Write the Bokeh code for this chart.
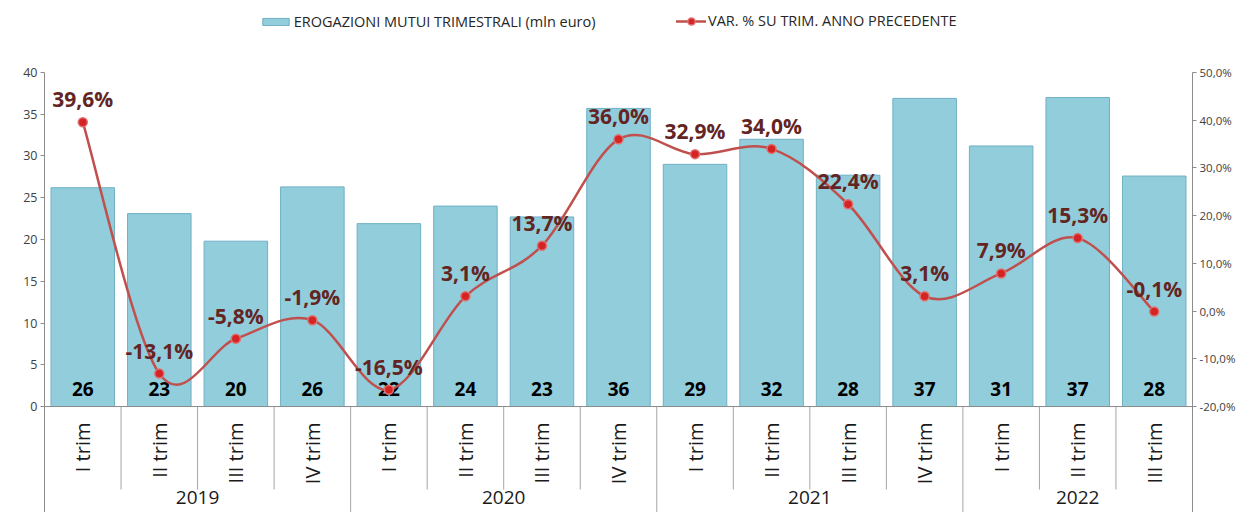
import math
from bokeh.plotting import figure
from bokeh.models import (FactorRange, Range1d, LinearAxis, FixedTicker, CustomJSTickFormatter,
                          ColumnDataSource, Legend, LegendItem, Span)
from bokeh.core.properties import value
from bokeh.embed import file_html
from bokeh.resources import INLINE

# ---------------- data ----------------
years = ["2019", "2019", "2019", "2019", "2020", "2020", "2020", "2020",
         "2021", "2021", "2021", "2021", "2022", "2022", "2022"]
quarters = ["I trim", "II trim", "III trim", "IV trim", "I trim", "II trim", "III trim", "IV trim",
            "I trim", "II trim", "III trim", "IV trim", "I trim", "II trim", "III trim"]
erogazioni = [26.2, 23.1, 19.8, 26.3, 21.9, 24.0, 22.7, 35.7, 29.0, 32.0, 27.7, 36.9, 31.2, 37.0, 27.6]
var_pct = [39.6, -13.1, -5.8, -1.9, -16.5, 3.1, 13.7, 36.0, 32.9, 34.0, 22.4, 3.1, 7.9, 15.3, -0.1]
left_ticks = [0, 5, 10, 15, 20, 25, 30, 35, 40]
right_ticks = [-20, -10, 0, 10, 20, 30, 40, 50]
bar_name = "EROGAZIONI MUTUI TRIMESTRALI (mln euro)"
line_name = "VAR. % SU TRIM. ANNO PRECEDENTE"

FONT = "Open Sans"
factors = list(zip(years, quarters))
n = len(factors)

# ranges (axes show 0..40 / -20..50; frame extends for legend and category labels)
y_lo, y_hi = -12.69, 48.62
p_lo, p_hi = -42.21, 65.10

p = figure(width=1238, height=512,
           x_range=FactorRange(*factors, factor_padding=0, group_padding=0, subgroup_padding=0, range_padding=0),
           y_range=Range1d(y_lo, y_hi),
           output_backend="svg", toolbar_location=None, x_axis_location=None,
           min_border_left=44, min_border_right=42, min_border_top=0, min_border_bottom=0)
p.extra_y_ranges = {"pct": Range1d(p_lo, p_hi)}
p.outline_line_color = None
p.grid.visible = False
p.background_fill_color = "white"
p.border_fill_color = "white"

AX = "#8c8c8c"
yl = p.yaxis[0]
yl.ticker = FixedTicker(ticks=left_ticks)
yl.bounds = (y_lo, left_ticks[-1])
yr = LinearAxis(y_range_name="pct", ticker=FixedTicker(ticks=right_ticks),
                formatter=CustomJSTickFormatter(code="return tick.toFixed(1).replace('.', ',') + '%';"),
                bounds=(p_lo, right_ticks[-1]))
p.add_layout(yr, "right")
for ax in (yl, yr):
    ax.axis_line_color = AX
    ax.major_tick_line_color = AX
    ax.major_tick_out = 4
    ax.major_tick_in = 0
    ax.minor_tick_out = 0
    ax.minor_tick_in = 0
    ax.major_label_text_font = FONT
    ax.major_label_text_font_size = "12.5px"
    ax.major_label_text_color = "#404040"
    ax.major_label_standoff = 3
yr.major_label_text_font_size = "11.5px"

# bars
src = ColumnDataSource(dict(x=factors, top=erogazioni,
                            lab=[str(int(round(v))) for v in erogazioni]))
bars = p.vbar(x="x", top="top", bottom=0, width=0.83, source=src,
              fill_color="#92CDDC", line_color="#6fb0c4", line_width=1)
p.add_layout(Span(location=0, dimension="width", line_color=AX, line_width=1))
p.text(x="x", y=0, text="lab", source=src, text_align="center", text_baseline="middle",
       y_offset=-18, text_font=value(FONT), text_font_style="bold", text_font_size="19px",
       text_color="black")

# category separators
q_sep_x, y_sep_x = [], []
for i in range(1, n):
    pos = (years[i], quarters[i], -0.5)
    if years[i] != years[i - 1]:
        y_sep_x.append(pos)
    else:
        q_sep_x.append(pos)
p.segment(x0=q_sep_x, x1=q_sep_x, y0=0, y1=-9.94, line_color="#a6a6a6", line_width=1)
p.segment(x0=y_sep_x, x1=y_sep_x, y0=0, y1=y_lo, line_color="#a6a6a6", line_width=1)

# quarter labels (rotated) and year labels
p.text(x=factors, y=-1.92, text=quarters, angle=math.pi / 2, text_align="right",
       text_baseline="middle", text_font=value(FONT), text_font_size="20px", text_color="#1a1a1a")
yr_x, yr_t = [], []
for y in dict.fromkeys(years):
    idx = [i for i in range(n) if years[i] == y]
    yr_x.append((years[idx[0]], quarters[idx[0]], (len(idx) - 1) / 2))
    yr_t.append(y)
p.text(x=yr_x, y=-10.85, text=yr_t, text_align="center", text_baseline="middle",
       text_font=value(FONT), text_font_size="19px", text_color="#1a1a1a")

# smoothed line via Bezier segments (Catmull-Rom control points from the data)
bx0, by0, bx1, by1, cx0, cy0, cx1, cy1 = [], [], [], [], [], [], [], []
for i in range(n - 1):
    prv = max(i - 1, 0)
    nxt = min(i + 2, n - 1)
    bx0.append(factors[i]); by0.append(var_pct[i])
    bx1.append(factors[i + 1]); by1.append(var_pct[i + 1])
    cx0.append((years[i], quarters[i], (i + 1 - prv) / 6))
    cy0.append(var_pct[i] + (var_pct[i + 1] - var_pct[prv]) / 6)
    cx1.append((years[i + 1], quarters[i + 1], -(nxt - i) / 6))
    cy1.append(var_pct[i + 1] - (var_pct[nxt] - var_pct[i]) / 6)
curve = p.bezier(x0=bx0, y0=by0, x1=bx1, y1=by1, cx0=cx0, cy0=cy0, cx1=cx1, cy1=cy1,
                 y_range_name="pct", line_color="#c0504d", line_width=2.5, line_cap="round")
lsrc = ColumnDataSource(dict(x=factors, y=var_pct,
                             lab=[f"{v:.1f}".replace(".", ",") + "%" for v in var_pct]))
pts = p.scatter(x="x", y="y", source=lsrc, y_range_name="pct", size=9,
                fill_color="#d42424", line_color="#e07070", line_width=1.5)
p.text(x="x", y="y", text="lab", source=lsrc, y_range_name="pct", y_offset=-23,
       text_align="center", text_baseline="middle", text_font=value(FONT),
       text_font_style="bold", text_font_size="21px", text_color="#632523")

# legends
leg1 = Legend(items=[LegendItem(label=bar_name, renderers=[bars])], location=(214.7, 481.5),
              orientation="horizontal", glyph_width=33, glyph_height=9, label_height=9,
              label_standoff=2, padding=0, margin=0, spacing=0)
leg2 = Legend(items=[LegendItem(label=line_name, renderers=[curve, pts])], location=(632, 482),
              orientation="horizontal", glyph_width=30, glyph_height=18, label_height=18,
              label_standoff=2, padding=0, margin=0, spacing=0)
for lg in (leg1, leg2):
    lg.border_line_color = None
    lg.background_fill_alpha = 0
    lg.label_text_font = FONT
    lg.label_text_font_size = "14.5px"
    lg.label_text_color = "#262626"
    p.add_layout(lg)

open("out.html", "w").write(file_html(p, INLINE))
